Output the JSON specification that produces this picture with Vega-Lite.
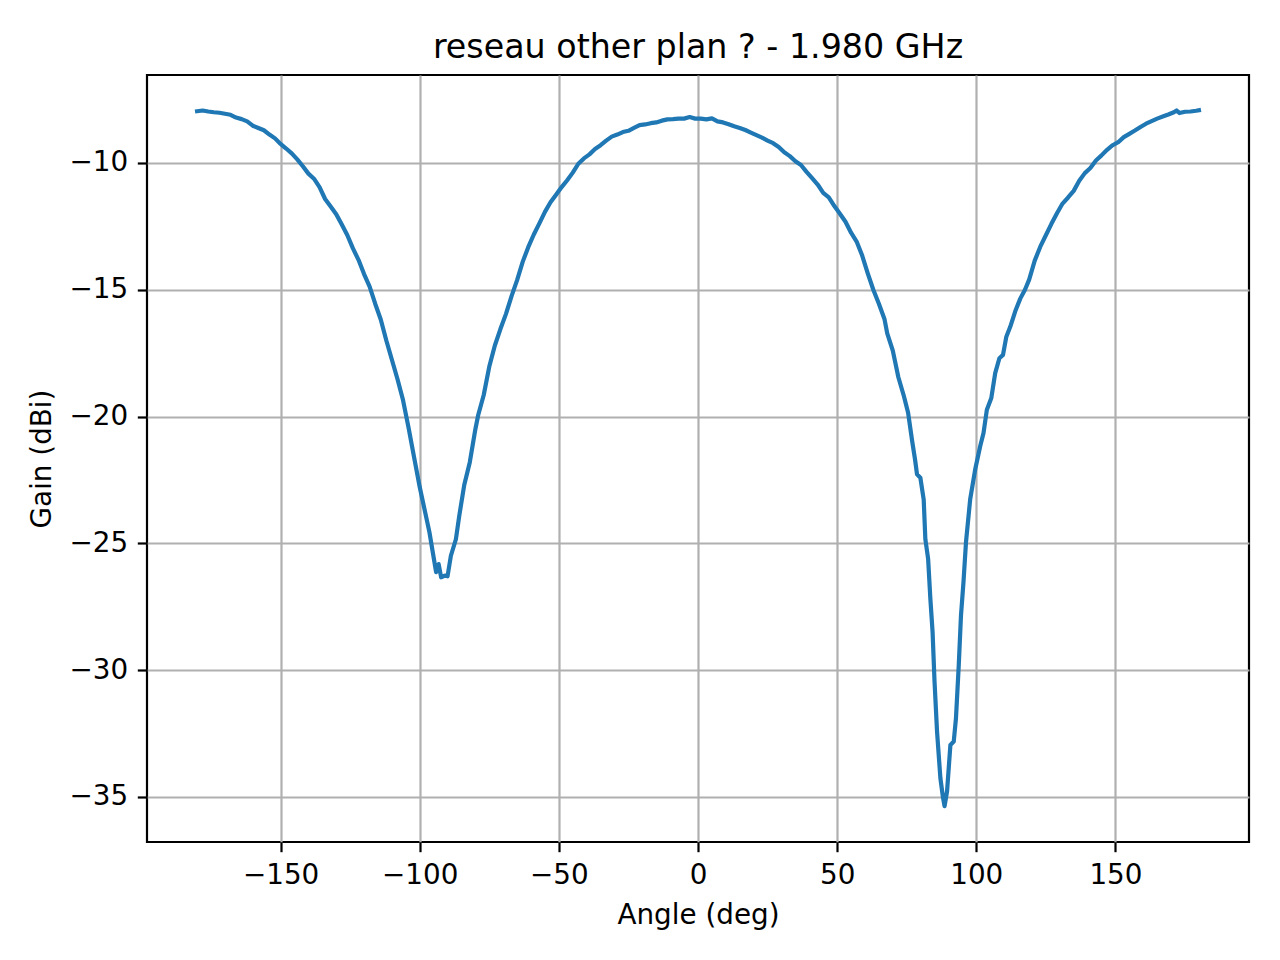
{
  "$schema": "https://vega.github.io/schema/vega-lite/v6.json",
  "autosize": "none",
  "width": 1102,
  "height": 767,
  "padding": {"left": 147, "top": 75, "right": 31, "bottom": 118},
  "background": "white",
  "title": {
    "text": "reseau other plan ? - 1.980 GHz",
    "font": "DejaVu Sans",
    "fontSize": 33.3,
    "fontWeight": "normal",
    "color": "black",
    "anchor": "middle",
    "baseline": "alphabetic",
    "offset": 17,
    "dy": 33
  },
  "config": {
    "view": {"stroke": "black", "strokeWidth": 2.2},
    "axis": {
      "labelFont": "DejaVu Sans",
      "labelFontSize": 27.8,
      "labelColor": "black",
      "titleFont": "DejaVu Sans",
      "titleFontSize": 27.8,
      "titleFontWeight": "normal",
      "titleColor": "black",
      "domain": false,
      "grid": true,
      "gridColor": "#b0b0b0",
      "gridWidth": 2.2,
      "ticks": true,
      "tickColor": "black",
      "tickWidth": 2.2,
      "tickSize": 9.7,
      "labelPadding": 9.7
    }
  },
  "data": {
    "values": [
      {"angle": -180, "gain": -7.96}, {"angle": -178, "gain": -7.93}, {"angle": -176, "gain": -7.97},
      {"angle": -174, "gain": -8.0}, {"angle": -172, "gain": -8.02}, {"angle": -170, "gain": -8.06},
      {"angle": -168, "gain": -8.1}, {"angle": -166, "gain": -8.21}, {"angle": -164, "gain": -8.27},
      {"angle": -162, "gain": -8.36}, {"angle": -160, "gain": -8.53}, {"angle": -158, "gain": -8.62},
      {"angle": -156, "gain": -8.71}, {"angle": -154, "gain": -8.88}, {"angle": -152, "gain": -9.03},
      {"angle": -150, "gain": -9.25}, {"angle": -148, "gain": -9.43}, {"angle": -146, "gain": -9.62},
      {"angle": -144, "gain": -9.86}, {"angle": -142, "gain": -10.13}, {"angle": -140, "gain": -10.42},
      {"angle": -138, "gain": -10.62}, {"angle": -136, "gain": -10.95}, {"angle": -134, "gain": -11.42},
      {"angle": -132, "gain": -11.72}, {"angle": -130, "gain": -12.02}, {"angle": -128, "gain": -12.43},
      {"angle": -126, "gain": -12.85}, {"angle": -124, "gain": -13.37}, {"angle": -122, "gain": -13.82},
      {"angle": -120, "gain": -14.38}, {"angle": -118, "gain": -14.88}, {"angle": -116, "gain": -15.55},
      {"angle": -114, "gain": -16.17}, {"angle": -112, "gain": -17.0}, {"angle": -110, "gain": -17.76},
      {"angle": -108, "gain": -18.52}, {"angle": -106, "gain": -19.35}, {"angle": -104, "gain": -20.45},
      {"angle": -102, "gain": -21.62}, {"angle": -100, "gain": -22.78}, {"angle": -98, "gain": -23.8},
      {"angle": -96.5, "gain": -24.57}, {"angle": -95.3, "gain": -25.36}, {"angle": -94.1, "gain": -26.14},
      {"angle": -93.2, "gain": -25.82}, {"angle": -92.3, "gain": -26.34}, {"angle": -91, "gain": -26.27},
      {"angle": -90, "gain": -26.3}, {"angle": -88.8, "gain": -25.49}, {"angle": -87, "gain": -24.84},
      {"angle": -85.8, "gain": -23.92}, {"angle": -84, "gain": -22.7}, {"angle": -82, "gain": -21.8},
      {"angle": -80, "gain": -20.5}, {"angle": -79, "gain": -19.95}, {"angle": -77, "gain": -19.15},
      {"angle": -75, "gain": -18.03}, {"angle": -73, "gain": -17.2}, {"angle": -71, "gain": -16.55},
      {"angle": -69, "gain": -15.95}, {"angle": -67, "gain": -15.25}, {"angle": -65, "gain": -14.62},
      {"angle": -63, "gain": -13.9}, {"angle": -61, "gain": -13.32}, {"angle": -59, "gain": -12.82},
      {"angle": -57, "gain": -12.38}, {"angle": -55, "gain": -11.93}, {"angle": -53, "gain": -11.55},
      {"angle": -51, "gain": -11.25}, {"angle": -49, "gain": -10.95}, {"angle": -47, "gain": -10.68},
      {"angle": -45, "gain": -10.38}, {"angle": -43, "gain": -10.03}, {"angle": -41, "gain": -9.82},
      {"angle": -39, "gain": -9.66}, {"angle": -37, "gain": -9.45}, {"angle": -35, "gain": -9.3},
      {"angle": -33, "gain": -9.12}, {"angle": -31, "gain": -8.96}, {"angle": -29, "gain": -8.88},
      {"angle": -27, "gain": -8.78}, {"angle": -25, "gain": -8.73}, {"angle": -23, "gain": -8.62},
      {"angle": -21, "gain": -8.51}, {"angle": -19, "gain": -8.48}, {"angle": -17, "gain": -8.43},
      {"angle": -15, "gain": -8.4}, {"angle": -13, "gain": -8.33}, {"angle": -11, "gain": -8.28},
      {"angle": -9, "gain": -8.27}, {"angle": -7, "gain": -8.25}, {"angle": -5, "gain": -8.25},
      {"angle": -3, "gain": -8.19}, {"angle": -1, "gain": -8.25}, {"angle": 1, "gain": -8.25},
      {"angle": 3, "gain": -8.28}, {"angle": 5, "gain": -8.24}, {"angle": 7, "gain": -8.36},
      {"angle": 9, "gain": -8.4}, {"angle": 11, "gain": -8.47}, {"angle": 13, "gain": -8.55},
      {"angle": 15, "gain": -8.62}, {"angle": 17, "gain": -8.7}, {"angle": 19, "gain": -8.8},
      {"angle": 21, "gain": -8.9}, {"angle": 23, "gain": -9.0}, {"angle": 25, "gain": -9.12},
      {"angle": 27, "gain": -9.22}, {"angle": 29, "gain": -9.37}, {"angle": 31, "gain": -9.58},
      {"angle": 33, "gain": -9.73}, {"angle": 35, "gain": -9.93}, {"angle": 37, "gain": -10.08},
      {"angle": 39, "gain": -10.35}, {"angle": 41, "gain": -10.6}, {"angle": 43, "gain": -10.85},
      {"angle": 45, "gain": -11.18}, {"angle": 47, "gain": -11.36}, {"angle": 49, "gain": -11.7},
      {"angle": 51, "gain": -12.0}, {"angle": 53, "gain": -12.32}, {"angle": 55, "gain": -12.75},
      {"angle": 57, "gain": -13.1}, {"angle": 59, "gain": -13.65}, {"angle": 61, "gain": -14.35},
      {"angle": 63, "gain": -15.0}, {"angle": 65, "gain": -15.55}, {"angle": 67, "gain": -16.15},
      {"angle": 68, "gain": -16.72}, {"angle": 70, "gain": -17.4}, {"angle": 72, "gain": -18.45},
      {"angle": 74, "gain": -19.2}, {"angle": 75.5, "gain": -19.85}, {"angle": 77, "gain": -21.0},
      {"angle": 78, "gain": -21.7}, {"angle": 78.7, "gain": -22.28}, {"angle": 79.9, "gain": -22.41},
      {"angle": 81.1, "gain": -23.27}, {"angle": 81.7, "gain": -24.84}, {"angle": 82.7, "gain": -25.62},
      {"angle": 83.5, "gain": -27.19}, {"angle": 84.3, "gain": -28.5}, {"angle": 85.0, "gain": -30.46},
      {"angle": 85.9, "gain": -32.43}, {"angle": 87.1, "gain": -34.26}, {"angle": 88.0, "gain": -35.0},
      {"angle": 88.6, "gain": -35.37}, {"angle": 89.5, "gain": -34.78}, {"angle": 90.7, "gain": -32.95},
      {"angle": 91.9, "gain": -32.82}, {"angle": 92.7, "gain": -31.9}, {"angle": 93.7, "gain": -29.81},
      {"angle": 94.5, "gain": -27.85}, {"angle": 95.4, "gain": -26.53}, {"angle": 96.3, "gain": -24.96},
      {"angle": 97.8, "gain": -23.27}, {"angle": 99.6, "gain": -22.09}, {"angle": 101.4, "gain": -21.17},
      {"angle": 102.6, "gain": -20.65}, {"angle": 103.8, "gain": -19.73}, {"angle": 105.4, "gain": -19.27},
      {"angle": 106.8, "gain": -18.29}, {"angle": 108.3, "gain": -17.7}, {"angle": 109.6, "gain": -17.57},
      {"angle": 110.8, "gain": -16.85}, {"angle": 112.2, "gain": -16.46}, {"angle": 114, "gain": -15.85},
      {"angle": 115.8, "gain": -15.35}, {"angle": 117.5, "gain": -15.0}, {"angle": 119, "gain": -14.6},
      {"angle": 121, "gain": -13.85}, {"angle": 123, "gain": -13.3}, {"angle": 125, "gain": -12.85},
      {"angle": 127, "gain": -12.4}, {"angle": 129, "gain": -11.98}, {"angle": 131, "gain": -11.6},
      {"angle": 133, "gain": -11.36}, {"angle": 135, "gain": -11.1}, {"angle": 137, "gain": -10.7},
      {"angle": 139, "gain": -10.4}, {"angle": 141, "gain": -10.2}, {"angle": 143, "gain": -9.9},
      {"angle": 145, "gain": -9.7}, {"angle": 147, "gain": -9.48}, {"angle": 149, "gain": -9.3},
      {"angle": 151, "gain": -9.18}, {"angle": 153, "gain": -8.98}, {"angle": 155, "gain": -8.85},
      {"angle": 157, "gain": -8.72}, {"angle": 159, "gain": -8.58}, {"angle": 161, "gain": -8.45},
      {"angle": 163, "gain": -8.35}, {"angle": 165, "gain": -8.25}, {"angle": 167, "gain": -8.17},
      {"angle": 169, "gain": -8.09}, {"angle": 171, "gain": -8.0}, {"angle": 172, "gain": -7.93},
      {"angle": 173, "gain": -8.03}, {"angle": 175, "gain": -7.98}, {"angle": 177, "gain": -7.97},
      {"angle": 179, "gain": -7.94}, {"angle": 180, "gain": -7.92}
    ]
  },
  "mark": {"type": "line", "color": "#1f77b4", "strokeWidth": 4.2, "strokeJoin": "round", "strokeCap": "square"},
  "encoding": {
    "x": {
      "field": "angle",
      "type": "quantitative",
      "scale": {"domain": [-198, 198], "nice": false, "zero": false},
      "axis": {"title": "Angle (deg)", "values": [-150, -100, -50, 0, 50, 100, 150], "titlePadding": 12}
    },
    "y": {
      "field": "gain",
      "type": "quantitative",
      "scale": {"domain": [-36.78, -6.53], "nice": false, "zero": false},
      "axis": {"title": "Gain (dBi)", "values": [-35, -30, -25, -20, -15, -10], "titlePadding": 12}
    }
  }
}
